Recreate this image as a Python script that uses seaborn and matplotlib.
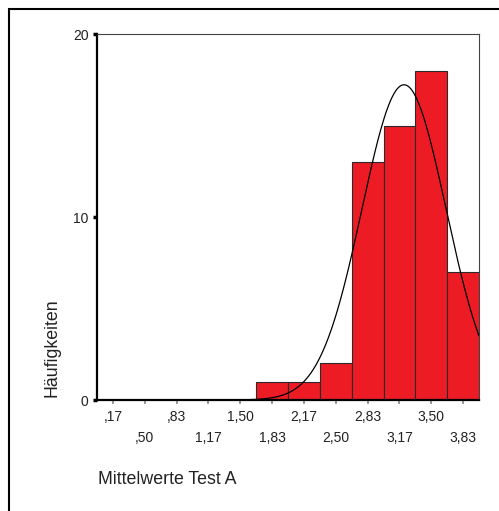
import numpy as np
import pandas as pd
import matplotlib
matplotlib.use("Agg")
import matplotlib.pyplot as plt
import seaborn as sns
from matplotlib.patches import Rectangle

# bin centers (Mittelwerte) and counts
bin_centers = [0.1667, 0.5, 0.8333, 1.1667, 1.5, 1.8333, 2.1667, 2.5, 2.8333, 3.1667, 3.5, 3.8333]
counts = [0, 0, 0, 0, 0, 1, 1, 2, 13, 15, 18, 7]
tick_labels = [",17", ",50", ",83", "1,17", "1,50", "1,83", "2,17", "2,50", "2,83", "3,17", "3,50", "3,83"]
bin_width = 1 / 3

# normal curve parameters
curve_mean = 3.215
curve_sd = 0.44

sns.set_style("white")
plt.rcParams["font.family"] = ["Liberation Sans", "DejaVu Sans"]

fig = plt.figure(figsize=(4.99, 5.11), dpi=100)
ax = fig.add_axes([97 / 499, 1 - 400 / 511, 382 / 499, 366 / 511])

df = pd.DataFrame({"wert": bin_centers, "n": counts})
lo = bin_centers[0] - bin_width / 2
hi = bin_centers[-1] + bin_width / 2
sns.histplot(data=df, x="wert", weights="n", binwidth=bin_width, binrange=(lo, hi), ax=ax,
             color="#ED1C24", alpha=1, edgecolor="#2a2a2a", linewidth=0.8)

# normal curve scaled to counts
n = sum(counts)
xs = np.linspace(1.6, hi, 300)
ys = n * bin_width / (curve_sd * np.sqrt(2 * np.pi)) * np.exp(-0.5 * ((xs - curve_mean) / curve_sd) ** 2)
ax.plot(xs, ys, color="black", lw=0.9)

ax.set_xlim(lo, hi)
ax.set_ylim(0, 20)
ax.set_yticks([0, 10, 20])
ax.set_yticklabels(["0", "10", "20"], fontsize=10, color="#222222")
ax.set_xticks(bin_centers)
ax.set_xticklabels(tick_labels, fontsize=10, color="#222222")
ax.set_xlabel("")
ax.set_ylabel("")

ax.tick_params(axis="y", direction="out", length=3, width=2.5, color="black", pad=3, left=True)
ax.tick_params(axis="x", direction="out", length=3, width=1.2, color="#888888", pad=4, bottom=True)
for i, tick in enumerate(ax.xaxis.get_major_ticks()):
    if i % 2 == 1:
        tick.set_pad(19)

for side in ["left", "bottom"]:
    ax.spines[side].set_color("black")
    ax.spines[side].set_linewidth(1.6)
for side in ["top", "right"]:
    ax.spines[side].set_visible(True)
    ax.spines[side].set_color("#444444")
    ax.spines[side].set_linewidth(0.8)

fig.text(52 / 499, 1 - 348 / 511, "Häufigkeiten", rotation=90, ha="center", va="center",
         fontsize=12.8, color="#222222")
fig.text(98 / 499, 1 - 480 / 511, "Mittelwerte Test A", ha="left", va="center",
         fontsize=12.8, color="#222222")

# outer frame (left and top edges visible)
fig.add_artist(Rectangle((9 / 499, -0.2), 1.2, 1.2 - 9 / 511, transform=fig.transFigure,
                         fill=False, edgecolor="black", linewidth=1.5))

fig.savefig("out.png", dpi=100)
